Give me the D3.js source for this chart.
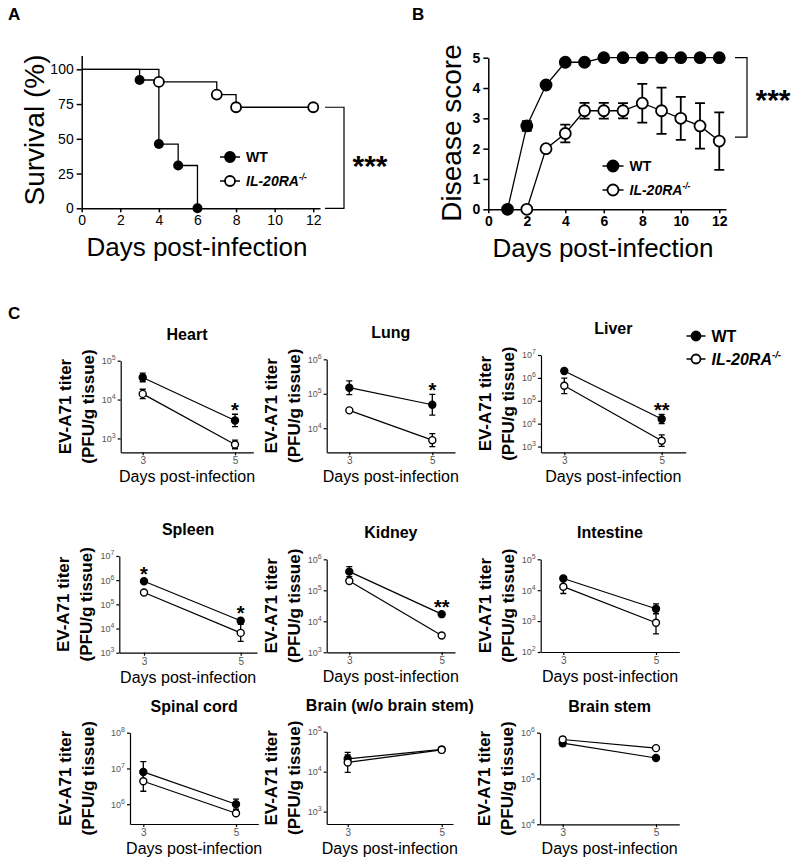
<!DOCTYPE html>
<html lang="en">
<head>
<meta charset="utf-8" />
<script src="https://cdnjs.cloudflare.com/ajax/libs/d3/7.8.5/d3.min.js"></script>
<style>
  body { margin: 0; background: #fff; }
  svg text { font-family: "Liberation Sans", Arial, sans-serif; fill: #000; }
  .ax path, .ax line { stroke: #000; stroke-width: 1.5px; }
  .sm path, .sm line { stroke: #000; stroke-width: 1.2px; }
  .sm text { fill: #555; }
</style>
</head>
<body>
<svg width="793" height="859"></svg>
<script>
// ---- A: survival (Kaplan-Meier steps)
var wtSurvDays = [0, 3, 4, 5, 6];
var wtSurv = [100, 92.3, 46.2, 30.8, 0];
var koSurvDays = [0, 4, 7, 8, 12];
var koSurv = [100, 90.9, 81.8, 72.7, 72.7];

// ---- B: disease score
var wtScoreDays = [1, 2, 3, 4, 5, 6, 7, 8, 9, 10, 11, 12];
var wtScore = [0, 2.75, 4.1, 4.85, 4.85, 5, 5, 5, 5, 5, 5, 5];
var wtScoreErr = [0, 0.16, 0, 0, 0, 0, 0, 0, 0, 0, 0, 0];
var koScoreDays = [2, 3, 4, 5, 6, 7, 8, 9, 10, 11, 12];
var koScore = [0, 2.0, 2.5, 3.25, 3.25, 3.25, 3.5, 3.25, 3.0, 2.75, 2.25];
var koScoreErr = [0, 0, 0.29, 0.26, 0.26, 0.25, 0.64, 0.76, 0.71, 0.75, 0.95];

// ---- C: tissue titers (PFU/g), errors in log10 units
var tissues = ["Heart", "Lung", "Liver", "Spleen", "Kidney", "Intestine",
  "Spinal cord", "Brain (w/o brain stem)", "Brain stem"];
var wtDay3 = [3.7e4, 1.5e5, 2.0e6, 9.0e5, 4.0e5, 2.4e4, 8.0e6, 2.1e4, 5.9e5];
var wtDay5 = [2.9e3, 4.8e4, 1.6e4, 2.1e4, 1.7e4, 2.5e3, 1.0e6, 3.6e4, 2.8e5];
var koDay3 = [1.4e4, 3.3e4, 4.5e5, 3.1e5, 2.0e5, 1.3e4, 4.4e6, 1.7e4, 7.1e5];
var koDay5 = [700, 4.5e3, 1.8e3, 6.6e3, 3.5e3, 880, 5.6e5, 3.5e4, 4.6e5];
var wtErr3 = [0.11, 0.2, 0.05, 0.03, 0.16, 0.05, 0.29, 0.1, 0.06];
var wtErr5 = [0.16, 0.3, 0.2, 0.05, 0.03, 0.16, 0.14, 0.07, 0.05];
var koErr3 = [0.12, 0.03, 0.34, 0.03, 0.05, 0.22, 0.28, 0.25, 0.05];
var koErr5 = [0.11, 0.19, 0.25, 0.35, 0.05, 0.36, 0.05, 0.05, 0.05];
var sigDay3 = ["", "", "", "*", "", "", "", "", ""];
var sigDay5 = ["*", "*", "**", "*", "**", "", "", "", ""];
var yMin = [440, 2000, 560, 1e3, 1e3, 1e2, 2.8e5, 490, 1e4];
var yMax = [1e5, 1e6, 1e7, 1e7, 1e6, 1e5, 1e8, 1e5, 1e6];

// pixel boxes of the small panels
var boxes = [
  {L: 120.7, R: 253.3, T: 360.7, B: 452.3, x3: 142.7, x5: 235},
  {L: 326.7, R: 455, T: 359.3, B: 452.3, x3: 349.3, x5: 432.3},
  {L: 541, R: 685.7, T: 355, B: 452.3, x3: 564.3, x5: 661.7},
  {L: 119.3, R: 257, T: 556, B: 652.7, x3: 144, x5: 240.7},
  {L: 326.7, R: 455, T: 559.3, B: 652.3, x3: 349.3, x5: 441.7},
  {L: 540.7, R: 679.3, T: 559.3, B: 652, x3: 563.3, x5: 656},
  {L: 130, R: 258.3, T: 732.7, B: 824, x3: 143.3, x5: 236, yl: 65},
  {L: 326.7, R: 453, T: 731.7, B: 824, x3: 347.7, x5: 441.7},
  {L: 540, R: 679.3, T: 732.7, B: 824.3, x3: 562.7, x5: 656}
];

var svg = d3.select("svg");

function panelLetter(t, x, y) {
  svg.append("text").attr("x", x).attr("y", y).text(t)
    .style("font-size", "17px").style("font-weight", "bold");
}

function koLabel(g, x, y, size) {
  var t = g.append("text").attr("x", x).attr("y", y)
    .style("font-size", size + "px").style("font-weight", "bold").style("font-style", "italic");
  t.append("tspan").text("IL-20RA");
  t.append("tspan").text("-/-").attr("dy", -size * 0.4).style("font-size", (size * 0.6) + "px");
}

function legend(x, y, gap, size, r) {
  var g = svg.append("g");
  [0, 1].forEach(function(i) {
    var cy = y + i * gap;
    g.append("line").attr("x1", x - r - 5).attr("x2", x + r + 5).attr("y1", cy).attr("y2", cy)
      .attr("stroke", "#000").attr("stroke-width", 1.5);
    g.append("circle").attr("cx", x).attr("cy", cy).attr("r", r)
      .attr("fill", i ? "#fff" : "#000").attr("stroke", "#000").attr("stroke-width", 1.8);
  });
  g.append("text").attr("x", x + r + 11).attr("y", y + size * 0.36).text("WT")
    .style("font-size", size + "px").style("font-weight", "bold");
  koLabel(g, x + r + 11, y + gap + size * 0.36, size);
}

function bracket(x, y1, y2, w) {
  svg.append("path").attr("d", "M" + (x - w) + "," + y1 + "H" + x + "V" + y2 + "H" + (x - w))
    .attr("fill", "none").attr("stroke", "#000").attr("stroke-width", 1.2);
}

// ================= A =================
panelLetter("A", 8, 20);
var xA = d3.scaleLinear().domain([0, 12.35]).range([81.7, 320]);
var yA = d3.scaleLinear().domain([0, 110]).range([208.3, 55.4]);
var gA = svg.append("g");
gA.append("g").attr("class", "ax").attr("transform", "translate(0,208.3)")
  .call(d3.axisBottom(xA).tickValues(d3.range(0, 13, 2)).tickSize(4).tickSizeOuter(0).tickPadding(2))
  .selectAll("text").style("font-size", "14px").attr("dy", "0.8em");
gA.append("g").attr("class", "ax").attr("transform", "translate(81.7,0)")
  .call(d3.axisLeft(yA).tickValues([0, 25, 50, 75, 100]).tickSize(5).tickSizeOuter(0))
  .selectAll("text").style("font-size", "14px");
var step = d3.line().curve(d3.curveStepAfter).x(function(d) { return xA(d[0]); }).y(function(d) { return yA(d[1]); });
gA.append("path").attr("d", step(d3.zip(wtSurvDays, wtSurv))).attr("fill", "none").attr("stroke", "#000").attr("stroke-width", 1.3);
gA.append("path").attr("d", step(d3.zip(koSurvDays, koSurv))).attr("fill", "none").attr("stroke", "#000").attr("stroke-width", 1.3);
gA.selectAll(".wtm").data(d3.zip(wtSurvDays, wtSurv).slice(1)).enter().append("circle")
  .attr("cx", function(d) { return xA(d[0]); }).attr("cy", function(d) { return yA(d[1]); })
  .attr("r", 5).attr("fill", "#000");
gA.selectAll(".kom").data(d3.zip(koSurvDays, koSurv).slice(1)).enter().append("circle")
  .attr("cx", function(d) { return xA(d[0]); }).attr("cy", function(d) { return yA(d[1]); })
  .attr("r", 5).attr("fill", "#fff").attr("stroke", "#000").attr("stroke-width", 1.8);
gA.append("text").attr("transform", "translate(44,130) rotate(-90)").attr("text-anchor", "middle")
  .text("Survival (%)").style("font-size", "28px");
gA.append("text").attr("x", 197).attr("y", 256).attr("text-anchor", "middle")
  .text("Days post-infection").style("font-size", "26px");
bracket(344, yA(72.7), yA(0), 19);
svg.append("text").attr("x", 370).attr("y", 176).attr("text-anchor", "middle").text("***")
  .style("font-size", "30px").style("font-weight", "bold");
legend(230, 157, 24, 14, 5);

// ================= B =================
panelLetter("B", 412, 20);
var xB = d3.scaleLinear().domain([0, 12.35]).range([488.3, 726]);
var yB = d3.scaleLinear().domain([0, 5]).range([209.3, 57.7]);
var gB = svg.append("g");
gB.append("g").attr("class", "ax").attr("transform", "translate(0,209.3)")
  .call(d3.axisBottom(xB).tickValues(d3.range(0, 13, 2)).tickSize(4).tickSizeOuter(0).tickPadding(2))
  .selectAll("text").style("font-size", "14px").style("font-weight", "bold").attr("dy", "0.8em");
gB.append("g").attr("class", "ax").attr("transform", "translate(488.3,0)")
  .call(d3.axisLeft(yB).ticks(5).tickSize(5).tickSizeOuter(0))
  .selectAll("text").style("font-size", "14px").style("font-weight", "bold");
var lineB = d3.line().x(function(d) { return xB(d[0]); }).y(function(d) { return yB(d[1]); });
[[wtScoreDays, wtScore, wtScoreErr, "#000"], [koScoreDays, koScore, koScoreErr, "#fff"]].forEach(function(s) {
  var pts = d3.zip(s[0], s[1], s[2]);
  gB.append("path").attr("d", lineB(pts)).attr("fill", "none").attr("stroke", "#000").attr("stroke-width", 1.3);
  var eb = gB.selectAll(null).data(pts.filter(function(d) { return d[2] > 0; })).enter().append("g");
  eb.append("path").attr("fill", "none").attr("stroke", "#000").attr("stroke-width", 1.8)
    .attr("d", function(d) {
      var x = xB(d[0]), a = yB(d[1] + d[2]), b = yB(d[1] - d[2]);
      return "M" + (x - 5) + "," + a + "H" + (x + 5) + "M" + x + "," + a + "V" + b + "M" + (x - 5) + "," + b + "H" + (x + 5);
    });
  gB.selectAll(null).data(pts).enter().append("circle")
    .attr("cx", function(d) { return xB(d[0]); }).attr("cy", function(d) { return yB(d[1]); })
    .attr("r", 5.5).attr("fill", s[3]).attr("stroke", "#000").attr("stroke-width", 1.8);
});
gB.append("text").attr("transform", "translate(461,133) rotate(-90)").attr("text-anchor", "middle")
  .text("Disease score").style("font-size", "28px");
gB.append("text").attr("x", 603).attr("y", 257).attr("text-anchor", "middle")
  .text("Days post-infection").style("font-size", "26px");
bracket(747, yB(5), yB(2.38), 12);
svg.append("text").attr("x", 773).attr("y", 110).attr("text-anchor", "middle").text("***")
  .style("font-size", "30px").style("font-weight", "bold");
legend(613, 166, 24, 14, 5.5);

// ================= C =================
panelLetter("C", 8, 319);
legend(696, 336, 23, 16, 4.5);

function sup(sel, e) {
  sel.text("");
  sel.append("tspan").text("10");
  sel.append("tspan").text(e).attr("dy", -4).style("font-size", "7px");
}

tissues.forEach(function(name, i) {
  var b = boxes[i];
  var g = svg.append("g");
  var xs = d3.scaleLinear().domain([3, 5]).range([b.x3, b.x5]);
  var x = d3.scaleLinear().domain([xs.invert(b.L), xs.invert(b.R)]).range([b.L, b.R]);
  var y = d3.scaleLog().domain([yMin[i], yMax[i]]).range([b.B, b.T]);
  var lo = Math.ceil(Math.log10(yMin[i]) - 1e-9), hi = Math.floor(Math.log10(yMax[i]) + 1e-9);
  var ticks = d3.range(lo, hi + 1).map(function(k) { return Math.pow(10, k); });

  var ya = g.append("g").attr("class", "sm").attr("transform", "translate(" + b.L + ",0)")
    .call(d3.axisLeft(y).tickValues(ticks).tickSize(3).tickSizeOuter(0).tickPadding(2));
  ya.selectAll("text").style("font-size", "9px").each(function(v) {
    sup(d3.select(this), Math.round(Math.log10(v)));
  });
  var xa = g.append("g").attr("class", "sm").attr("transform", "translate(0," + b.B + ")")
    .call(d3.axisBottom(x).tickValues([3, 5]).tickFormat(d3.format("d")).tickSize(3).tickSizeOuter(0).tickPadding(2));
  xa.selectAll("text").style("font-size", "10px");

  g.append("text").attr("x", (b.L + b.R) / 2).attr("y", b.T - 21).attr("text-anchor", "middle")
    .text(name).style("font-size", "16px").style("font-weight", "bold");
  g.append("text").attr("x", (b.L + b.R) / 2).attr("y", b.B + 30).attr("text-anchor", "middle")
    .text("Days post-infection").style("font-size", "16px");
  var yl = b.yl || b.L - 56, cy = (b.T + b.B) / 2;
  g.append("text").attr("transform", "translate(" + (yl + 6) + "," + cy + ") rotate(-90)")
    .attr("text-anchor", "middle").text("EV-A71 titer").style("font-size", "17px").style("font-weight", "bold");
  g.append("text").attr("transform", "translate(" + (yl + 29) + "," + cy + ") rotate(-90)")
    .attr("text-anchor", "middle").text("(PFU/g tissue)").style("font-size", "17px").style("font-weight", "bold");

  var series = [
    {v: [wtDay3[i], wtDay5[i]], e: [wtErr3[i], wtErr5[i]], fill: "#000"},
    {v: [koDay3[i], koDay5[i]], e: [koErr3[i], koErr5[i]], fill: "#fff"}
  ];
  var line = d3.line().x(function(d) { return x(d.day); }).y(function(d) { return y(d.val); });
  series.forEach(function(s) {
    var pts = [{day: 3, val: s.v[0], err: s.e[0]}, {day: 5, val: s.v[1], err: s.e[1]}];
    g.append("path").attr("d", line(pts)).attr("fill", "none").attr("stroke", "#000").attr("stroke-width", 1.2);
    g.selectAll(null).data(pts).enter().append("path")
      .attr("fill", "none").attr("stroke", "#000").attr("stroke-width", 1.3)
      .attr("d", function(d) {
        var px = x(d.day), a = y(d.val * Math.pow(10, d.err)), c = y(d.val / Math.pow(10, d.err));
        return "M" + (px - 3) + "," + a + "H" + (px + 3) + "M" + px + "," + a + "V" + c + "M" + (px - 3) + "," + c + "H" + (px + 3);
      });
    g.selectAll(null).data(pts).enter().append("circle")
      .attr("cx", function(d) { return x(d.day); }).attr("cy", function(d) { return y(d.val); })
      .attr("r", 3.5).attr("fill", s.fill).attr("stroke", "#000").attr("stroke-width", 1.4);
  });

  [[3, sigDay3[i], 0], [5, sigDay5[i], 1]].forEach(function(s) {
    if (!s[1]) return;
    var v = series[0].v[s[2]], e = series[0].e[s[2]];
    var top = Math.min(y(v * Math.pow(10, e)), y(v) - 3.5);
    g.append("text").attr("x", x(s[0])).attr("y", top + 3).attr("text-anchor", "middle")
      .text(s[1]).style("font-size", "20px").style("font-weight", "bold");
  });
});
</script>
</body>
</html>
